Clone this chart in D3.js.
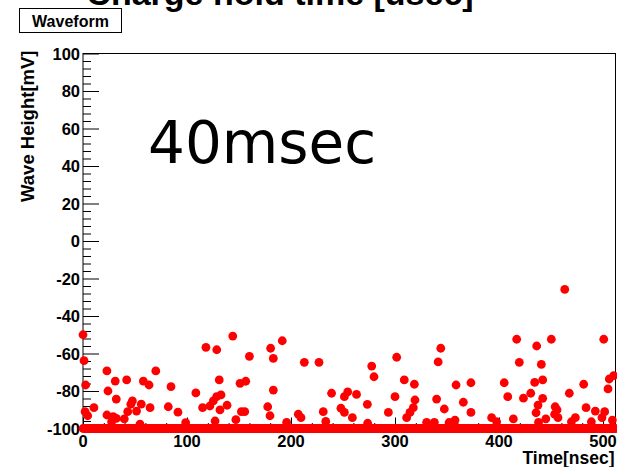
<!DOCTYPE html>
<html><head><meta charset="utf-8">
<script src="https://cdn.jsdelivr.net/npm/d3@7"></script>
<style>
html,body{margin:0;padding:0;background:#fff;overflow:hidden;}
svg{display:block;}
</style></head>
<body>
<script>
// ---- data ----
const chartTitle = "Charge hold time [usec]";
const statLabel = "Waveform";
const annotation = "40msec";
const xLabel = "Time[nsec]";
const yLabel = "Wave Height[mV]";
const xDomain = [0, 512];
const yDomain = [-100, 100];
const xTicks = [0, 100, 200, 300, 400, 500];
const yTicks = [-100, -80, -60, -40, -20, 0, 20, 40, 60, 80, 100];
const baselineValue = -100;          // saturated samples along the bottom
const baselineSpan = [0, 512];
const sampleTimes = [0,1,2.5,2,4.5,10.5,23,24,23,27.5,29,31,32,32,39.7,42,43,46,47.5,51.5,54.8,56,58,63.5,64.5,70,82,84.6,91.3,98.7,108.5,115,118.2,122,125.3,127,128.6,128.5,131,131.7,132.7,138.5,144,147,151,152.3,155.5,156.5,160,177.6,179.8,180.4,183,183,191.6,195.8,207,209.6,212.8,226.9,231,233.4,239,248,251.3,251.3,254.5,259,263,273.4,273.7,277.6,279.8,293.6,300,301.6,308.9,311.2,314.4,317.6,318.6,319.2,330.4,337.8,340,341.5,344,347.4,352,357.7,358.7,365.7,373,373,392.9,397.7,405,408.4,413.8,417,419.5,423.5,430.5,434.3,435.6,436.2,437.5,438,440.7,442,442,445,450.3,453.5,454,455.8,456.7,463.2,467.6,469.6,473.4,481.4,483.7,488.8,492.6,499,500.7,501.6,504.8,506,509,510.3];
const sampleValues = [-50,-63.8,-76.8,-91,-93.2,-88.9,-69.3,-80,-92.8,-96.4,-93.7,-74.7,-84.3,-94.6,-94.9,-74.1,-91,-87,-85.3,-90.7,-97.7,-87,-74.7,-76.8,-88.9,-69.3,-88.4,-77.7,-91.3,-96.9,-81,-88.9,-56.7,-88,-85.3,-96,-58,-83,-74.1,-90.1,-82.1,-87.6,-50.7,-95.3,-75.9,-91,-91,-74.8,-61.5,-88.4,-93.2,-57.2,-62.6,-79.5,-53.2,-96.7,-92.4,-94.2,-64.7,-64.7,-91,-96.2,-81.2,-89.2,-91.4,-83,-80.5,-94.2,-81.8,-87.1,-97.2,-66.7,-72.4,-91.4,-83,-62,-74.1,-94.2,-91.4,-88.9,-76.4,-84.8,-96.7,-96.7,-84.3,-64.5,-57.2,-89.6,-96.8,-95.5,-76.8,-86,-75.6,-91.4,-94.2,-96.4,-75.6,-83,-94.9,-52.4,-64.7,-83.8,-81.2,-75.4,-91.6,-56,-87.5,-96.7,-65.8,-74.1,-83.9,-94.9,-52.4,-92.4,-88.4,-90.1,-94.2,-25.8,-81.2,-96.4,-94.2,-76.4,-88.9,-96.4,-90.7,-94.2,-52.4,-91,-78.9,-73.6,-95.5,-71.8];

// ---- layout ----
const W = 617, H = 467;
const plot = {left: 83, right: 615.5, top: 53.5, bottom: 428.5};
const markerR = 4.4;
const red = "#ff0000";
const font = "Liberation Sans, Arial, sans-serif";

const svg = d3.select("body").append("svg").attr("width", W).attr("height", H);

const x = d3.scaleLinear().domain(xDomain).range([plot.left, plot.right]);
const y = d3.scaleLinear().domain(yDomain).range([plot.bottom, plot.top]);

// title (cut off at top, as in the reference)
svg.append("text").attr("x", 280).attr("y", 5)
  .attr("text-anchor", "middle")
  .attr("font-family", font)
  .attr("font-weight", "bold").attr("font-size", 34)
  .text(chartTitle);

// stat box
svg.append("rect").attr("x", 19.5).attr("y", 8.5).attr("width", 102).attr("height", 24)
  .attr("fill", "#fff").attr("stroke", "#000").attr("stroke-width", 1);
svg.append("text").attr("x", 70.5).attr("y", 26.5)
  .attr("text-anchor", "middle")
  .attr("font-family", font)
  .attr("font-weight", "bold").attr("font-size", 16)
  .text(statLabel);

// frame
svg.append("rect")
  .attr("x", plot.left).attr("y", plot.top)
  .attr("width", plot.right - plot.left).attr("height", plot.bottom - plot.top)
  .attr("fill", "none").attr("stroke", "#000").attr("stroke-width", 1);

// Y axis
const yAxis = d3.axisRight(y).tickValues(yTicks).tickSize(16).tickFormat("");
const yG = svg.append("g").attr("transform", `translate(${plot.left},0)`).call(yAxis);
yG.select(".domain").remove();
yG.selectAll("line").attr("stroke", "#000");
const yMinor = d3.range(yDomain[0], yDomain[1] + 0.01, 4).filter(v => !yTicks.includes(v));
const yAxisMinor = d3.axisRight(y).tickValues(yMinor).tickSize(8).tickFormat("");
const yGm = svg.append("g").attr("transform", `translate(${plot.left},0)`).call(yAxisMinor);
yGm.select(".domain").remove();
yGm.selectAll("line").attr("stroke", "#000");
svg.append("g").selectAll("text").data(yTicks).join("text")
  .attr("x", plot.left - 3).attr("y", d => y(d) + 6)
  .attr("text-anchor", "end")
  .attr("font-family", font).attr("font-weight", "bold").attr("font-size", 16.5)
  .text(d => d);

// X axis
const xAxis = d3.axisTop(x).tickValues(xTicks).tickSize(11).tickFormat("");
const xG = svg.append("g").attr("transform", `translate(0,${plot.bottom})`).call(xAxis);
xG.select(".domain").remove();
xG.selectAll("line").attr("stroke", "#000");
const xMinor = d3.range(0, 512, 20).filter(v => !xTicks.includes(v));
const xAxisMinor = d3.axisTop(x).tickValues(xMinor).tickSize(5.5).tickFormat("");
const xGm = svg.append("g").attr("transform", `translate(0,${plot.bottom})`).call(xAxisMinor);
xGm.select(".domain").remove();
xGm.selectAll("line").attr("stroke", "#000");
svg.append("g").selectAll("text").data(xTicks).join("text")
  .attr("x", d => x(d)).attr("y", 446.5)
  .attr("text-anchor", "middle")
  .attr("font-family", font).attr("font-weight", "bold").attr("font-size", 16.5)
  .text(d => d);

// axis titles
svg.append("text").attr("x", plot.right - 1).attr("y", 464)
  .attr("text-anchor", "end")
  .attr("font-family", font).attr("font-weight", "bold").attr("font-size", 17.5)
  .text(xLabel);
svg.append("text")
  .attr("transform", `translate(34,${plot.top - 3}) rotate(-90)`)
  .attr("text-anchor", "end")
  .attr("font-family", font).attr("font-weight", "bold").attr("font-size", 18.5)
  .text(yLabel);

// annotation
svg.append("text").attr("x", 148).attr("y", 163)
  .attr("font-family", "DejaVu Sans, sans-serif").attr("font-size", 58)
  .text(annotation);

// baseline band of saturated samples
svg.append("line")
  .attr("x1", x(baselineSpan[0])).attr("x2", x(baselineSpan[1]))
  .attr("y1", y(baselineValue)).attr("y2", y(baselineValue))
  .attr("stroke", red).attr("stroke-width", markerR * 2).attr("stroke-linecap", "round");

// scattered samples
const pts = sampleTimes.map((t, i) => ({t, v: sampleValues[i]}));
svg.append("g").selectAll("circle").data(pts).join("circle")
  .attr("cx", d => x(d.t)).attr("cy", d => y(d.v)).attr("r", markerR)
  .attr("fill", red);
</script>
</body></html>
